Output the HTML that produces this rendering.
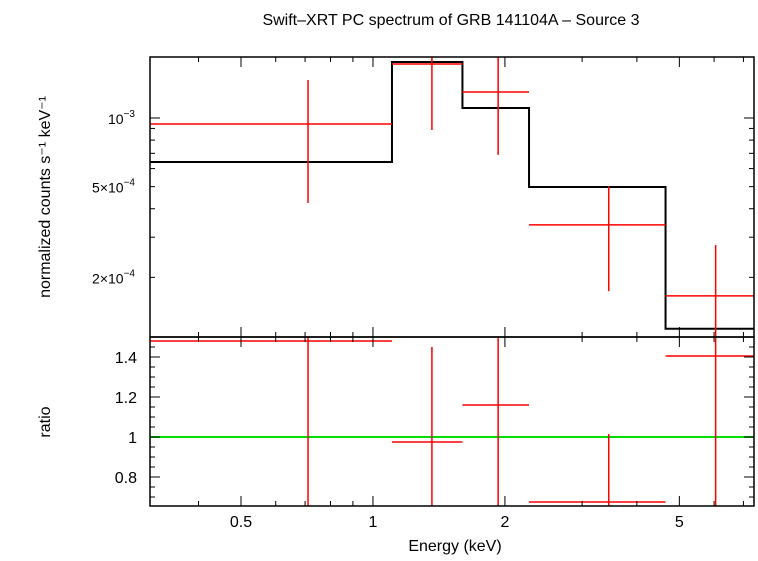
<!DOCTYPE html>
<html><head><meta charset="utf-8"><style>
body{margin:0;background:#fff}
text{font-family:"Liberation Sans",sans-serif;fill:#000}
</style></head><body>
<svg width="758" height="556" xmlns="http://www.w3.org/2000/svg">
<defs>
<clipPath id="ct"><rect x="150" y="57" width="604" height="280"/></clipPath>
<clipPath id="cb"><rect x="150" y="337" width="604" height="169"/></clipPath>
</defs>
<text x="451" y="25" font-size="16" text-anchor="middle">Swift–XRT PC spectrum of GRB 141104A – Source 3</text>
<g id="topPanel"></g>
<g id="botPanel"></g>
<g id="axes"></g>
<text transform="translate(50,197) rotate(-90)" font-size="16" text-anchor="middle">normalized counts s⁻¹ keV⁻¹</text>
<text transform="translate(50,422) rotate(-90)" font-size="16" text-anchor="middle">ratio</text>
<text x="455" y="551" font-size="16" text-anchor="middle">Energy (keV)</text>
</svg>
<script>
const binEdges=[0.31,1.105,1.6,2.27,4.65,7.4];
const binCenters=[0.711,1.363,1.93,3.45,6.05];
const dataVals=[0.941e-3,1.725e-3,1.30e-3,0.340e-3,0.166e-3];
const dataHi=[1.468e-3,2.2e-3,2.5e-3,0.503e-3,0.277e-3];
const dataLo=[0.424e-3,0.886e-3,0.689e-3,0.174e-3,0.08e-3];
const modelVals=[0.641e-3,1.76e-3,1.106e-3,0.498e-3,0.119e-3];
const ratioVals=[1.48,0.975,1.16,0.675,1.405];
const ratioHi=[1.6,1.45,1.6,1.015,1.6];
const ratioLo=[0.5,0.6,0.6,0.6,0.6];
const xTickLabels=["0.5","1","2","5"];
const xTickVals=[0.5,1,2,5];
const ratioTicks=[0.8,1,1.2,1.4];
const NS="http://www.w3.org/2000/svg";
const X0=150,X1=754,XMIN=0.31,XMAX=7.4;
const sx=v=>X0+(Math.log10(v)-Math.log10(XMIN))/(Math.log10(XMAX)-Math.log10(XMIN))*(X1-X0);
const syT=v=>118-228*Math.log10(v/1e-3);
const syB=v=>437-200*(v-1);
function mk(tag,at,parent){const e=document.createElementNS(NS,tag);for(const k in at)e.setAttribute(k,at[k]);parent.appendChild(e);return e;}
function line(p,x1,y1,x2,y2,c,w){return mk('line',{x1,y1,x2,y2,stroke:c,'stroke-width':w||1.5},p);}
const topG=document.getElementById('topPanel'),botG=document.getElementById('botPanel'),ax=document.getElementById('axes');
const gt=mk('g',{'clip-path':'url(#ct)'},topG);
const gb=mk('g',{'clip-path':'url(#cb)'},botG);
let d='';
for(let i=0;i<modelVals.length;i++){const y=syT(modelVals[i]);d+=(i?'L':'M')+sx(binEdges[i])+','+y+'L'+sx(binEdges[i+1])+','+y;}
const mp=mk('path',{d,fill:'none',stroke:'#000','stroke-width':2},gt);


const one=line(gb,X0,syB(1),X1,syB(1),'#00e000',2);


for(let i=0;i<dataVals.length;i++){
 const g=mk('g',{},gt);
 
 
 line(g,sx(binEdges[i]),syT(dataVals[i]),sx(binEdges[i+1]),syT(dataVals[i]),'#f00');
 line(g,sx(binCenters[i]),syT(dataHi[i]),sx(binCenters[i]),syT(dataLo[i]),'#f00');
 const r=mk('g',{},gb);
 
 
 line(r,sx(binEdges[i]),syB(ratioVals[i]),sx(binEdges[i+1]),syB(ratioVals[i]),'#f00');
 line(r,sx(binCenters[i]),syB(ratioHi[i]),sx(binCenters[i]),syB(ratioLo[i]),'#f00');
}
mk('rect',{x:X0,y:57,width:X1-X0,height:280,fill:'none',stroke:'#000','stroke-width':1.5},ax);
mk('rect',{x:X0,y:337,width:X1-X0,height:169,fill:'none',stroke:'#000','stroke-width':1.5},ax);
const minorX=[0.4,0.5,0.6,0.7,0.8,0.9,1,2,3,4,5,6,7];
minorX.forEach(v=>{const x=sx(v),major=xTickVals.includes(v),L=major?10:5;
 [[57,1],[337,-1],[337,1],[506,-1]].forEach(([y,s])=>line(ax,x,y,x,y+s*L,'#000',1));});
xTickVals.forEach((v,i)=>{const t=mk('text',{x:sx(v),y:527,'font-size':16,'text-anchor':'middle'},ax);t.textContent=xTickLabels[i];
 
 });
for(let k=2;k<=19;k++){const v=k<10?k*1e-4:(k-9)*1e-3;const y=syT(v);if(y<57||y>337)continue;
 const L=(k===10)?10:5;line(ax,X0,y,X0+L,y,'#000',1);line(ax,X1,y,X1-L,y,'#000',1);}
[[1e-3,'10','−3'],[5e-4,'5×10','−4'],[2e-4,'2×10','−4']].forEach(([v,a,e])=>{
 const t=mk('text',{x:135,y:syT(v)+6,'font-size':14,'text-anchor':'end'},ax);
 
 
 t.innerHTML=a+'<tspan dy="-7" font-size="10">'+e+'</tspan>';});
for(let v=0.7;v<=1.5;v+=0.05){const y=syB(v);if(y<337||y>506)continue;
 const major=ratioTicks.some(r=>Math.abs(r-v)<1e-6),L=major?10:5;
 line(ax,X0,y,X0+L,y,'#000',1);line(ax,X1,y,X1-L,y,'#000',1);}
ratioTicks.forEach(v=>{const t=mk('text',{x:137,y:syB(v)+6,'font-size':16,'text-anchor':'end'},ax);t.textContent=String(v);
 
 });
</script>
</body></html>
